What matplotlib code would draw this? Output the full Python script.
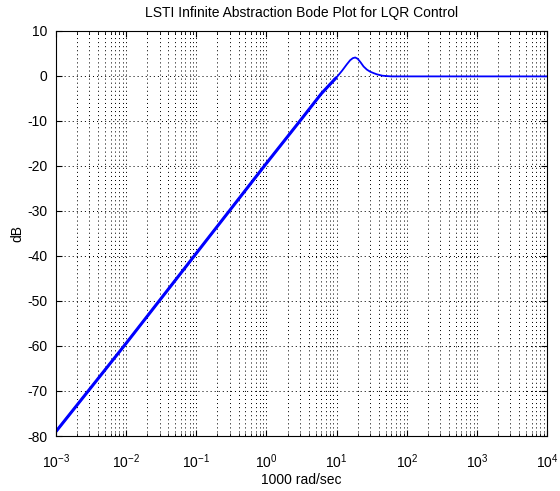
import matplotlib
matplotlib.use("Agg")
import matplotlib.pyplot as plt
from matplotlib.ticker import LogLocator, NullFormatter

plt.rcParams['font.family'] = ['Liberation Sans', 'DejaVu Sans']
plt.rcParams['font.size'] = 10
plt.rcParams['mathtext.fontset'] = 'custom'
plt.rcParams['mathtext.rm'] = 'Liberation Sans'
plt.rcParams['mathtext.it'] = 'Liberation Sans:italic'
plt.rcParams['mathtext.bf'] = 'Liberation Sans:bold'
plt.rcParams['axes.unicode_minus'] = False
plt.rcParams['lines.scale_dashes'] = False

# magnitude response (frequency in 1000 rad/sec, magnitude in dB)
freq = [1e-3, 1e-2, 1e-1, 1, 3, 6, 8, 10, 12, 14, 15.6, 17, 18.4, 20, 22,
        24.2, 27, 30, 34, 37.6, 45, 60, 100, 1e3, 1e4]
mag_db = [-79, -59.4, -39.4, -19.4, -10, -4, -1.9, -0.3, 1.2, 2.6, 3.5, 3.95,
          4.1, 3.8, 3.0, 2.1, 1.4, 0.95, 0.6, 0.35, 0.05, -0.1, -0.1, -0.1, -0.1]

xticks = [1e-3, 1e-2, 1e-1, 1e0, 1e1, 1e2, 1e3, 1e4]
xlabels = [r'$\mathregular{10^{-3}}$', r'$\mathregular{10^{-2}}$',
           r'$\mathregular{10^{-1}}$', r'$\mathregular{10^{0}}$',
           r'$\mathregular{10^{1}}$', r'$\mathregular{10^{2}}$',
           r'$\mathregular{10^{3}}$', r'$\mathregular{10^{4}}$']
yticks = list(range(-80, 11, 10))

fig = plt.figure(figsize=(5.6, 4.91), dpi=100)
ax = fig.add_axes([0.1, 0.112, 0.877, 0.825])

# thin full curve, the low-frequency asymptote drawn heavier on top
ax.semilogx(freq, mag_db, color='#0000ff', lw=1.3)
n_rise = freq.index(10) + 1
ax.semilogx(freq[:n_rise], mag_db[:n_rise], color='#0000ff', lw=2.2,
            solid_capstyle='butt')

ax.set_xlim(1e-3, 1e4)
ax.set_ylim(-80, 10)
ax.set_xticks(xticks)
ax.set_xticklabels(xlabels)
ax.xaxis.set_minor_locator(LogLocator(base=10, subs=range(2, 10), numticks=100))
ax.xaxis.set_minor_formatter(NullFormatter())
ax.set_yticks(yticks)

dots = dict(color='k', linestyle=(0, (0.72, 2.2)), linewidth=0.72)
ax.grid(True, which='major', axis='both', **dots)
ax.grid(True, which='minor', axis='x', **dots)

ax.tick_params(which='both', direction='in', top=True, right=True,
               labelsize=10, colors='k')
ax.tick_params(which='major', length=4)
ax.tick_params(which='minor', length=2)
ax.tick_params(axis='x', pad=12)
ax.tick_params(axis='y', pad=6)
for s in ax.spines.values():
    s.set_linewidth(0.8)

ax.set_title('LSTI Infinite Abstraction Bode Plot for LQR Control', fontsize=10, pad=10)
ax.set_xlabel('1000 rad/sec', fontsize=10, labelpad=1)
ax.set_ylabel('dB', fontsize=10, labelpad=2)

fig.savefig('out.png', dpi=100)
